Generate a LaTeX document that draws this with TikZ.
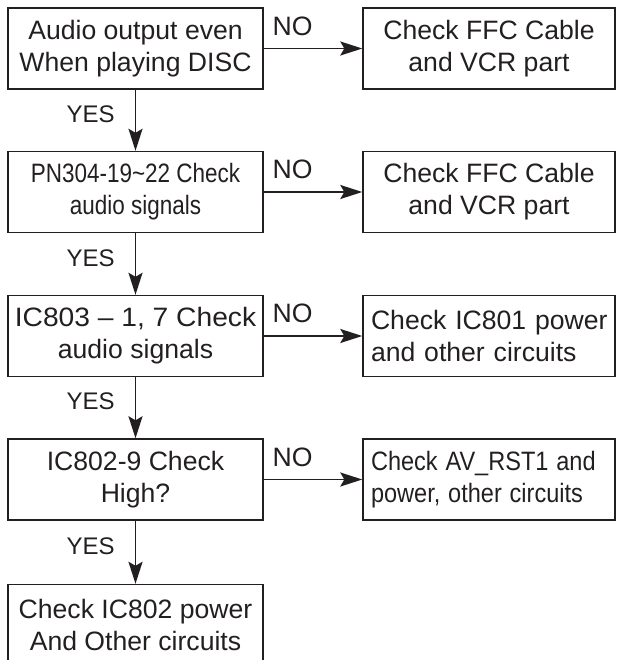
\documentclass[tikz,border=0pt]{standalone}
\usepackage{fontspec}
\setmainfont{Liberation Sans}
\usetikzlibrary{arrows.meta}
\definecolor{ink}{HTML}{231F20}
\begin{document}
\begin{tikzpicture}[x=1pt,y=-1pt,
  box/.style={draw=ink, line width=1.4pt, minimum width=255pt, minimum height=81pt,
    inner sep=0pt, align=center, font=\fontsize{26.6}{32}\selectfont, text=ink},
  rbox/.style={box, minimum width=252pt},
  lbox/.style={rbox, align=left, text width=236pt, inner xsep=8pt},
  arr/.style={draw=ink, line width=1.8pt, -{Stealth[length=22pt,width=14pt,inset=4pt]}},
  yes/.style={font=\fontsize{24}{28}\selectfont, text=ink, inner sep=0pt},
  no/.style={font=\fontsize{26.6}{32}\selectfont, text=ink, inner sep=0pt, anchor=south west},
]
\useasboundingbox (0,0) rectangle (616,660);
\clip (0,0) rectangle (616,660);

\node[box] (a1) at (135.5,48.5) {Audio output even\\When playing DISC};
\node[rbox] (b1) at (489,48.5) {Check FFC Cable\\and VCR part};
\node[box] (a2) at (135.5,192) {\scalebox{0.845}[1]{PN304-19\textasciitilde22 Check}\\\scalebox{0.845}[1]{audio signals}};
\node[rbox] (b2) at (489,192) {Check FFC Cable\\and VCR part};
\node[box] (a3) at (135.5,336) {\scalebox{1.06}[1]{IC803 \textendash\ 1, 7 Check}\\audio signals};
\node[lbox] (b3) at (489,336) {\mbox{Check IC801 power}\\\mbox{and other circuits}};
\node[box] (a4) at (135.5,479.5) {IC802-9 Check\\High?};
\node[lbox] (b4) at (489,479.5) {\scalebox{0.885}[1]{Check AV\_RST1 and}\\\scalebox{0.885}[1]{power, other circuits}};
\node[box] (a5) at (135.5,625) {Check IC802 power\\And Other circuits};

\draw[arr] (a1) -- node[no, pos=0, xshift=8pt, yshift=12pt] {NO} (b1);
\draw[arr] (a2) -- node[no, pos=0, xshift=8pt, yshift=12pt] {NO} (b2);
\draw[arr] (a3) -- node[no, pos=0, xshift=8pt, yshift=12pt] {NO} (b3);
\draw[arr] (a4) -- node[no, pos=0, xshift=8pt, yshift=12pt] {NO} (b4);

\draw[arr] (a1) -- node[yes, pos=0.4, left=20pt] {YES} (a2);
\draw[arr] (a2) -- node[yes, pos=0.4, left=20pt] {YES} (a3);
\draw[arr] (a3) -- node[yes, pos=0.4, left=20pt] {YES} (a4);
\draw[arr] (a4) -- node[yes, pos=0.4, left=20pt] {YES} (a5);
\end{tikzpicture}
\end{document}
